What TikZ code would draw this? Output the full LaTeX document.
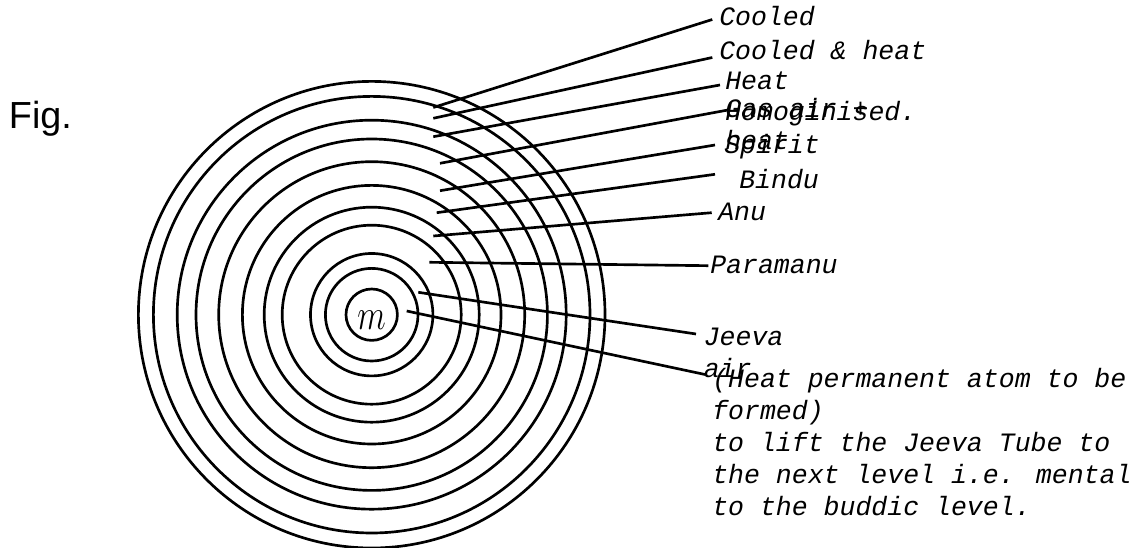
\documentclass[tikz,border=0pt]{standalone}
\usepackage{fontspec}
\newfontfamily\monoEtiq{Liberation Mono}
\newfontfamily\sansFig{Liberation Sans}
\usetikzlibrary{
	positioning,
	calc
}
\tikzset{
	anilloProc/.style={
		draw=black,
		line width=2pt
	},
	lineaEtiq/.style={
		line width=2pt,
		draw=black
	},
	textoEtiq/.style={
		anchor=base west,
		inner sep=0pt,
		align=left,
		font=\monoEtiq\itshape\fontsize{19.9}{24}\selectfont
	},
	textoFig/.style={
		anchor=base west,
		inner sep=0pt,
		font=\sansFig\fontsize{28.3}{34}\selectfont
	}
}

\begin{document}
\begin{tikzpicture}[x=0.75pt, y=-0.75pt]
		\useasboundingbox (0,0) rectangle (1136,548);
		\coordinate (centro) at (371.7,314.7);
		% anillos
		\foreach \r in {25.7,46.3,61.2,89.5,107.5,129.3,153,175.7,194.5,218.3,233.3}{
			\draw[anilloProc] (centro) circle[radius=\r];
		}
		\node[anchor=base, inner sep=0pt, font=\fontsize{24}{28}\selectfont] (masa) at (371.5,330) {\scalebox{1}[1.3]{$m$}};
		\node[textoFig] (figLbl) at (8.7,128.3) {Fig.};
		% etiquetas (base west = ultima linea)
		\node[textoEtiq] (lblCooled) at (719,26) {Cooled};
		\node[textoEtiq] (lblCooledHeat) at (719,59.3) {Cooled \& heat};
		\node[textoEtiq] (lblHeat) at (725,89.3) {Heat};
		\node[textoEtiq] (lblGas) at (725,150) {Gas air +\\heat};
		\node[textoEtiq] (lblHomo) at (725,120.7) {Homoginised.};
		\node[textoEtiq] (lblSpirit) at (724,154) {Spirit};
		\node[textoEtiq] (lblBindu) at (739,188.3) {Bindu};
		\node[textoEtiq] (lblAnu) at (718,220.7) {Anu};
		\node[textoEtiq] (lblParamanu) at (710,273.3) {Paramanu};
		\node[textoEtiq] (lblJeeva) at (703.5,377.5) {Jeeva\\air};
		\node[textoEtiq] (lblNota) at (712,515.5) {(Heat permanent atom to be\\formed)\\to lift the Jeeva Tube to\\the next level i.e. mental\\to the buddic level.};
		% lineas
		\foreach \n/\sx/\sy/\ex/\ey in {Cooled/433.3/107.5/712.3/19.5,CooledHeat/433.3/118.3/712.3/57.5,Heat/433.3/136.7/720/85,Gas/440/163.3/728/110,Spirit/440/190.7/715/145,Bindu/436.7/212.7/715/174.3,Anu/433.3/236/711.7/212.7,Paramanu/429.3/262.3/708.3/265.7,Jeeva/418.3/292.3/696/334,Air/406.7/311/705/374.5}{
			\coordinate (ini\n) at (\sx,\sy);
			\coordinate (fin\n) at (\ex,\ey);
			\draw[lineaEtiq] (ini\n) -- (fin\n);
		}
	\end{tikzpicture}
\end{document}
